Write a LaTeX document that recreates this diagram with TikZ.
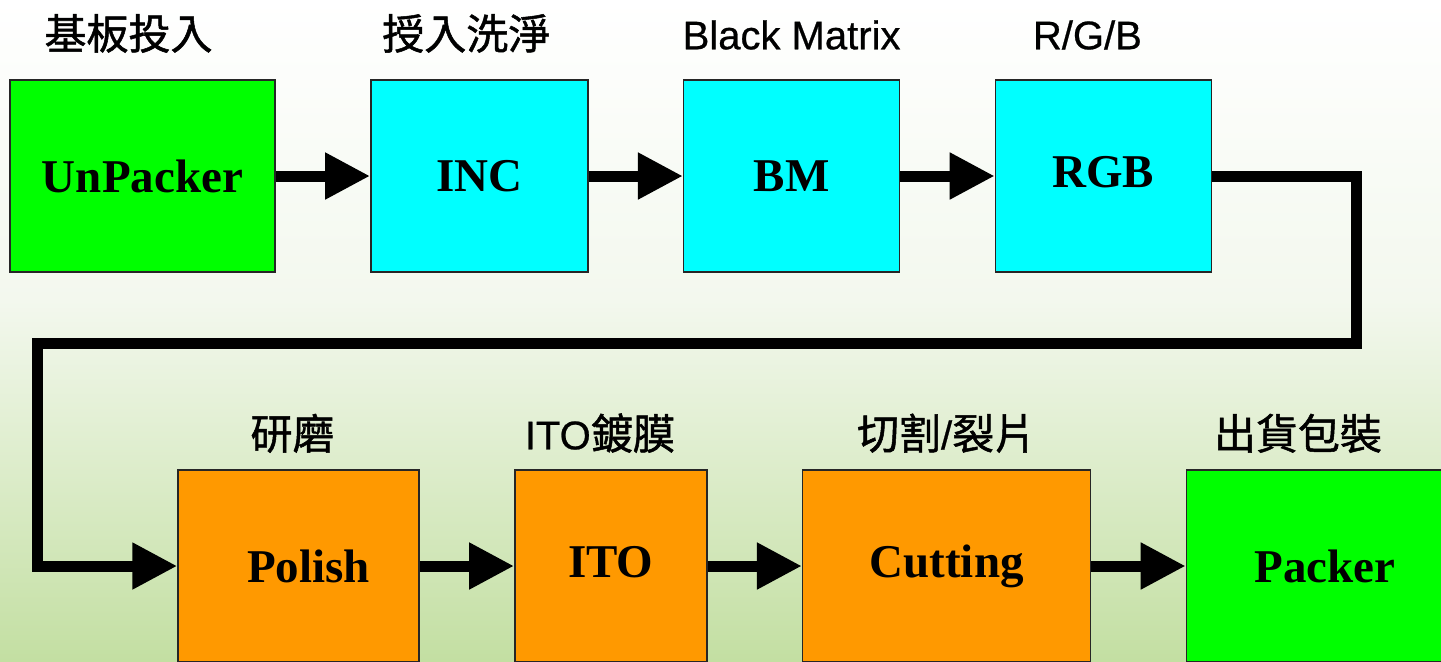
\documentclass[tikz,border=0pt]{standalone}
\usepackage{fontspec}
\setmainfont{Liberation Serif}
\newfontfamily\labelfont[FakeBold=0.6]{Liberation Sans}
\newfontfamily\cjkfont[FakeBold=1.2,Scale=1.05]{Noto Sans CJK TC}
\usetikzlibrary{positioning,arrows.meta}

\definecolor{boxgreen}{HTML}{00FF00}
\definecolor{boxcyan}{HTML}{00FFFF}
\definecolor{boxorange}{HTML}{FF9900}
\definecolor{bgmid}{HTML}{F3F8EE}
\definecolor{bggreen}{HTML}{C3DFA2}

\begin{document}
\begin{tikzpicture}
[x=0.5pt,y=-0.5pt]
\tikzset{
	machine/.style = {rectangle, draw=black!85, line width=0.7pt, minimum height=96pt, inner sep=0pt,
		font=\bfseries\fontsize{23.5pt}{28pt}\selectfont},
	packbox/.style = {machine, fill=boxgreen},
	cleanbox/.style = {machine, fill=boxcyan},
	finishbox/.style = {machine, fill=boxorange},
	stage/.style = {anchor=base, inner sep=0pt, font=\labelfont\fontsize{20pt}{24pt}\selectfont},
	flow/.style = {line width=5.5pt, -{Triangle[length=22.5pt,width=22pt]}}
}

% background
\useasboundingbox (0,0) rectangle (1441,661);
\clip (0,0) rectangle (1441,661);
\shade[top color=white, bottom color=bgmid] (0,0) rectangle (1441,300);
\shade[top color=bgmid, bottom color=bggreen] (0,300) rectangle (1441,661);

% upper row
\node (unpacker) [packbox, minimum width=132.5pt] at (142.5,176) {UnPacker};
\node (inc) [cleanbox, minimum width=108.5pt, right=47.2pt of unpacker] {INC};
\node (bm) [cleanbox, minimum width=108pt, right=47.2pt of inc] {BM};
\node (rgb) [cleanbox, minimum width=108pt, right=47.2pt of bm] {\raisebox{4pt}{RGB}};

% lower row
\node (polish) [finishbox, minimum width=120.5pt] at (298.5,566) {\hspace{10pt}Polish};
\node (ito) [finishbox, minimum width=96pt, right=47.2pt of polish] {\raisebox{4.5pt}{ITO}};
\node (cutting) [finishbox, minimum width=144pt, right=47.2pt of ito] {Cutting};
\node (packer) [packbox, minimum width=132.5pt, right=47.2pt of cutting] {\hspace{6pt}Packer};

% stage names
\node (unpackerlbl) [stage] at ([xshift=-7pt,yshift=15pt]unpacker.north) {\cjkfont 基板投入};
\node (inclbl) [stage] at ([xshift=-6.5pt,yshift=15pt]inc.north) {\cjkfont 授入洗淨};
\node (bmlbl) [stage] at ([yshift=15pt]bm.north) {Black Matrix};
\node (rgblbl) [stage] at ([xshift=-8pt,yshift=15pt]rgb.north) {R/G/B};
\node (polishlbl) [stage] at ([xshift=-3pt,yshift=10pt]polish.north) {\cjkfont 研磨};
\node (itolbl) [stage] at ([xshift=-5.5pt,yshift=10pt]ito.north) {ITO{\cjkfont 鍍膜}};
\node (cuttinglbl) [stage] at ([yshift=10pt]cutting.north) {{\cjkfont 切割}/{\cjkfont 裂片}};
\node (packerlbl) [stage] at ([xshift=-10.5pt,yshift=10pt]packer.north) {\cjkfont 出貨包裝};

% flow
\coordinate (turnright) at (1356,343);
\coordinate (turnleft) at (37,343);
\draw[flow] (unpacker) -- (inc);
\draw[flow] (inc) -- (bm);
\draw[flow] (bm) -- (rgb);
\draw[flow] (rgb.east) -| (turnright) -- (turnleft) |- (polish.west);
\draw[flow] (polish) -- (ito);
\draw[flow] (ito) -- (cutting);
\draw[flow] (cutting) -- (packer);

\end{tikzpicture}
\end{document}
